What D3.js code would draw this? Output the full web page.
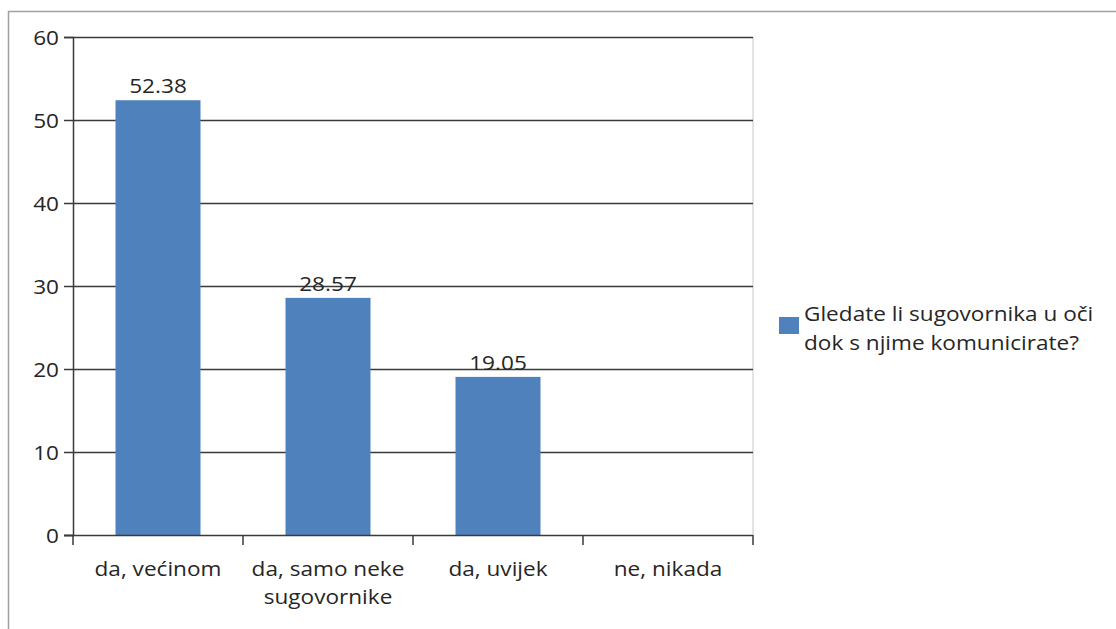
<!DOCTYPE html>
<html><head><meta charset="utf-8">
<script src="https://cdn.jsdelivr.net/npm/d3@7"></script>
<style>body{margin:0;background:#fff}svg text{font-family:"Open Sans","Noto Sans",sans-serif;fill:#262626}</style>
</head><body><svg id="c" width="1116" height="629"></svg>
<script>
const categories = [["da, većinom"], ["da, samo neke", "sugovornike"], ["da, uvijek"], ["ne, nikada"]];
const values = [52.38, 28.57, 19.05, null];
const valueLabels = ["52.38", "28.57", "19.05", ""];
const yTicks = [0, 10, 20, 30, 40, 50, 60];
const seriesName = ["Gledate li sugovornika u oči", "dok s njime komunicirate?"];

const FS = 20, SX = 1.13;
const svg = d3.select("#c");
const m = {l: 73, r: 753, t: 37, b: 535};
const x = d3.scaleBand().domain(d3.range(categories.length)).range([m.l, m.r]).paddingInner(0).paddingOuter(0);
const y = d3.scaleLinear().domain([0, 60]).range([m.b, m.t]);

// place stretched text: group at (px,py), text scaled horizontally
function stext(parent, px, py, anchor, lines, dy) {
  const g = parent.append("g").attr("transform", `translate(${px},${py}) scale(${SX},1)`);
  const t = g.append("text").attr("font-size", FS).attr("text-anchor", anchor);
  t.selectAll("tspan").data(lines).join("tspan").attr("x", 0).attr("dy", (d, i) => i ? dy : 0).text(d => d);
  return g;
}

// frame
svg.append("rect").attr("x", 8.5).attr("y", 11.5).attr("width", 1120).attr("height", 640)
  .attr("fill", "none").attr("stroke", "#a0a0a0").attr("stroke-width", 1.5);

// right plot border
svg.append("line").attr("x1", m.r).attr("x2", m.r).attr("y1", m.t).attr("y2", m.b).attr("stroke", "#c8c8c8");

// gridlines
svg.append("g").selectAll("line").data(yTicks.filter(d => d > 0)).join("line")
  .attr("x1", m.l).attr("x2", m.r).attr("y1", d => Math.round(y(d)) + 0.5).attr("y2", d => Math.round(y(d)) + 0.5)
  .attr("stroke", "#3a3a3a").attr("stroke-width", 1.5);

// bars
const bw = x.bandwidth() * 0.5;
const barData = values.map((v, i) => ({v, i})).filter(d => d.v != null);
svg.append("g").selectAll("rect").data(barData).join("rect")
  .attr("x", d => x(d.i) + (x.bandwidth() - bw) / 2).attr("width", bw)
  .attr("y", d => y(d.v)).attr("height", d => y(0) - y(d.v))
  .attr("fill", "#4f81bd");

// value labels
const vl = svg.append("g");
barData.forEach(d => stext(vl, x(d.i) + x.bandwidth() / 2, y(d.v) - 7, "middle", [valueLabels[d.i]], 0));

// y axis
const ya = svg.append("g").attr("transform", `translate(${m.l},0)`)
  .call(d3.axisLeft(y).tickValues(yTicks).tickSize(9).tickFormat(d3.format("d")));
ya.select(".domain").attr("stroke", "#3a3a3a").attr("stroke-width", 1.5);
ya.selectAll(".tick line").attr("stroke", "#3a3a3a").attr("stroke-width", 1.5);
ya.selectAll(".tick text").remove();
ya.selectAll(".tick").each(function(d) { stext(d3.select(this), -14, 7, "end", [String(d)], 0); });

// x axis
const xa = svg.append("g").attr("transform", `translate(0,${m.b})`);
xa.append("line").attr("x1", m.l - 9).attr("x2", m.r).attr("y1", 0.5).attr("y2", 0.5).attr("stroke", "#3a3a3a").attr("stroke-width", 1.5);
const xt = d3.range(categories.length + 1).map(i => i < categories.length ? x(i) : m.r);
xa.selectAll("line.t").data(xt).join("line").attr("class", "t")
  .attr("x1", d => d).attr("x2", d => d).attr("y1", 0).attr("y2", 10).attr("stroke", "#3a3a3a").attr("stroke-width", 1.5);
categories.forEach((c, i) => stext(xa, x(i) + x.bandwidth() / 2, 41, "middle", c, 28));

// legend
const lg = svg.append("g");
lg.append("rect").attr("x", 779).attr("y", 317).attr("width", 20).attr("height", 17).attr("fill", "#4f81bd");
stext(lg, 804, 321, "start", seriesName, 29);
</script></body></html>
